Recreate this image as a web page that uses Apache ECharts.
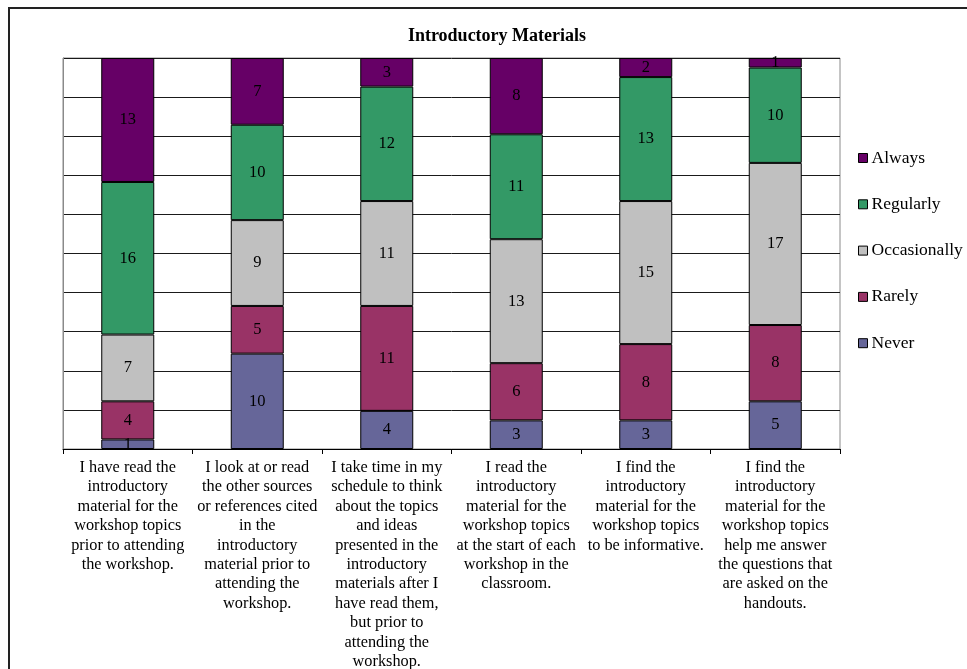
<!DOCTYPE html>
<html>
<head>
<meta charset="utf-8">
<script src="https://cdn.jsdelivr.net/npm/echarts@6/dist/echarts.min.js"></script>
<style>
  html, body { margin: 0; padding: 0; background: #fff; }
  #chart { width: 967px; height: 669px; }
</style>
</head>
<body>
<div id="chart"></div>
<script>
// Survey statements (category axis labels, pre-wrapped)
var categories = [
  'I have read the\nintroductory\nmaterial for the\nworkshop topics\nprior to attending\nthe workshop.',
  'I look at or read\nthe other sources\nor references cited\nin the\nintroductory\nmaterial prior to\nattending the\nworkshop.',
  'I take time in my\nschedule to think\nabout the topics\nand ideas\npresented in the\nintroductory\nmaterials after I\nhave read them,\nbut prior to\nattending the\nworkshop.',
  'I read the\nintroductory\nmaterial for the\nworkshop topics\nat the start of each\nworkshop in the\nclassroom.',
  'I find the\nintroductory\nmaterial for the\nworkshop topics\nto be informative.',
  'I find the\nintroductory\nmaterial for the\nworkshop topics\nhelp me answer\nthe questions that\nare asked on the\nhandouts.'
];

// Response counts per statement
var never        = [1, 10, 4, 3, 3, 5];
var rarely       = [4, 5, 11, 6, 8, 8];
var occasionally = [7, 9, 11, 13, 15, 17];
var regularly    = [16, 10, 12, 11, 13, 10];
var always       = [13, 7, 3, 8, 2, 1];

// Total respondents (each column is a full 100% stack)
var respondents = 41;

var serif = '"Liberation Serif", "DejaVu Serif", serif';

var seriesDefs = [
  { name: 'Never',        data: never,        color: '#666699' },
  { name: 'Rarely',       data: rarely,       color: '#993366' },
  { name: 'Occasionally', data: occasionally, color: '#C0C0C0' },
  { name: 'Regularly',    data: regularly,    color: '#339966' },
  { name: 'Always',       data: always,       color: '#660066' }
];

var chart = echarts.init(document.getElementById('chart'), null, { renderer: 'canvas' });

chart.setOption({
  animation: false,
  backgroundColor: '#ffffff',
  title: {
    text: 'Introductory Materials',
    left: 492,
    textAlign: 'center',
    top: 22,
    textStyle: { fontFamily: serif, fontSize: 18, fontWeight: 'bold', color: '#000' }
  },
  graphic: [
    {
      type: 'polyline',
      shape: { points: [[9, 669], [9, 8], [967, 8]] },
      style: { stroke: '#222', lineWidth: 2, fill: null },
      silent: true
    }
  ],
  legend: {
    orient: 'vertical',
    left: 853,
    top: 144,
    itemWidth: 9,
    itemHeight: 9,
    itemGap: 28.3,
    icon: 'rect',
    data: ['Always', 'Regularly', 'Occasionally', 'Rarely', 'Never'],
    itemStyle: { borderColor: '#000', borderWidth: 1 },
    textStyle: { fontFamily: serif, fontSize: 17.5, color: '#000', padding: [0, 0, 0, -1] }
  },
  grid: {
    left: 63,
    right: 127,
    top: 58,
    bottom: 220,
    outerBoundsMode: 'none',
    containLabel: false,
    show: true,
    borderColor: '#8a8a8a',
    borderWidth: 1
  },
  xAxis: {
    type: 'category',
    data: categories,
    axisLine: { show: true, lineStyle: { color: '#000', width: 1 } },
    axisTick: { show: true, length: 5, lineStyle: { color: '#000' } },
    axisLabel: {
      interval: 0,
      margin: 9,
      fontFamily: serif,
      fontSize: 16.3,
      lineHeight: 19.4,
      color: '#000',
      align: 'center',
      verticalAlign: 'top'
    }
  },
  yAxis: {
    type: 'value',
    min: 0,
    max: respondents,
    interval: respondents / 10,
    axisLine: { show: true, lineStyle: { color: '#8a8a8a' } },
    axisTick: { show: false },
    axisLabel: { show: false },
    splitLine: { show: true, lineStyle: { color: '#1a1a1a', width: 1 } }
  },
  series: seriesDefs.map(function (s) {
    return {
      name: s.name,
      type: 'bar',
      stack: 'total',
      barWidth: 53,
      data: s.data,
      itemStyle: { color: s.color, borderColor: '#000', borderWidth: 1 },
      label: {
        show: true,
        position: 'inside',
        fontFamily: serif,
        fontSize: 16.5,
        color: '#000'
      }
    };
  })
});
</script>
</body>
</html>
